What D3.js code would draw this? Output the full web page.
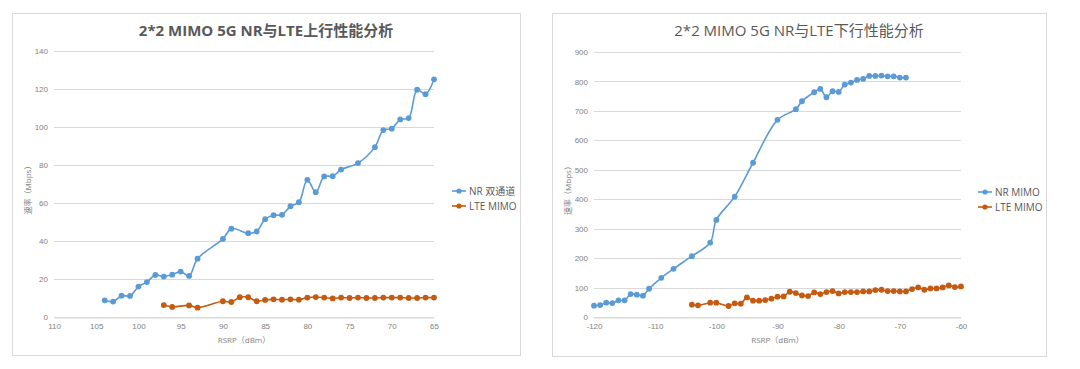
<!DOCTYPE html>
<html>
<head>
<meta charset="utf-8">
<script src="https://cdn.jsdelivr.net/npm/d3@7"></script>
<style>
  body { margin: 0; background: #fff; }
  svg { display: block; font-family: "Open Sans", "Noto Sans CJK SC", sans-serif; }
</style>
</head>
<body>
<svg id="chart" width="1080" height="369"></svg>
<script>
// ---- uplink chart (left) ----
const upNrX = [-104, -103, -102, -101, -100, -99, -98, -97, -96, -95, -94, -93, -90, -89, -87, -86, -85, -84, -83, -82, -81, -80, -79, -78, -77, -76, -74, -72, -71, -70, -69, -68, -67, -66, -65];
const upNrY = [8.8, 8.1, 11.2, 11.1, 16.0, 18.4, 22.1, 21.3, 22.3, 23.9, 21.6, 30.7, 41.1, 46.5, 44.1, 45.0, 51.5, 53.6, 53.8, 58.3, 60.4, 72.2, 65.7, 74.0, 74.1, 77.6, 81.0, 89.4, 98.4, 99.1, 104.0, 104.7, 119.6, 117.3, 125.1];
const upLteX = [-97, -96, -94, -93, -90, -89, -88, -87, -86, -85, -84, -83, -82, -81, -80, -79, -78, -77, -76, -75, -74, -73, -72, -71, -70, -69, -68, -67, -66, -65];
const upLteY = [6.3, 5.3, 6.1, 4.9, 8.3, 7.9, 10.4, 10.4, 8.3, 9.0, 9.3, 9.1, 9.3, 9.1, 10.2, 10.5, 10.2, 9.8, 10.2, 10.0, 10.2, 10.0, 10.0, 10.2, 10.2, 10.2, 10.0, 10.0, 10.2, 10.2];
const upXTicks = [-110, -105, -100, -95, -90, -85, -80, -75, -70, -65];
const upYTicks = [0, 20, 40, 60, 80, 100, 120, 140];

// ---- downlink chart (right) ----
const dnNrX = [-120, -119, -118, -117, -116, -115, -114, -113, -112, -111, -109, -107, -104, -101, -100, -97, -94, -90, -87, -86, -84, -83, -82, -81, -80, -79, -78, -77, -76, -75, -74, -73, -72, -71, -70, -69];
const dnNrY = [38.4, 40.6, 48.6, 47.4, 56.5, 56.5, 77.9, 75.7, 72.3, 96.0, 133.2, 163.7, 206.6, 252.9, 329.7, 408.8, 523.9, 669.6, 705.7, 732.8, 763.3, 774.6, 746.4, 766.7, 764.5, 789.3, 796.1, 805.1, 808.5, 818.7, 818.7, 819.8, 817.5, 817.5, 813.0, 813.0];
const dnLteX = [-104, -103, -101, -100, -98, -97, -96, -95, -94, -93, -92, -91, -90, -89, -88, -87, -86, -85, -84, -83, -82, -81, -80, -79, -78, -77, -76, -75, -74, -73, -72, -71, -70, -69, -68, -67, -66, -65, -64, -63, -62, -61, -60];
const dnLteY = [41.8, 39.5, 48.6, 48.6, 37.3, 46.3, 45.2, 66.6, 55.3, 55.3, 57.6, 62.1, 68.9, 70.0, 85.8, 81.3, 73.4, 71.1, 83.6, 77.9, 84.7, 88.1, 80.2, 84.7, 84.7, 84.7, 86.9, 86.9, 91.5, 92.6, 88.1, 88.1, 86.9, 86.9, 94.9, 100.5, 92.6, 97.1, 97.1, 100.5, 107.3, 101.6, 103.9];
const dnXTicks = [-120, -110, -100, -90, -80, -70, -60];
const dnYTicks = [0, 100, 200, 300, 400, 500, 600, 700, 800, 900];

const BLUE = "#5b9bd5";
const ORANGE = "#c55a11";

const svg = d3.select("#chart");

function drawChart(cfg) {
    const g = svg.append("g");

    // panel frame
    g.append("rect")
        .attr("x", cfg.box[0] + 0.5).attr("y", cfg.box[1] + 0.5)
        .attr("width", cfg.box[2]).attr("height", cfg.box[3])
        .attr("fill", "#fff").attr("stroke", "#d9d9d9");

    g.append("text")
        .attr("x", cfg.titleX).attr("y", 36)
        .attr("text-anchor", "middle")
        .attr("font-size", 15)
        .attr("font-weight", cfg.titleBold ? "bold" : "normal")
        .attr("fill", "#595959")
        .text(cfg.title);

    const x = d3.scaleLinear().domain(cfg.xDomain).range([cfg.plot[0], cfg.plot[1]]);
    const y = d3.scaleLinear().domain(cfg.yDomain).range([cfg.plot[3], cfg.plot[2]]);

    // gridlines
    g.append("g")
        .selectAll("line")
        .data(cfg.yTicks)
        .join("line")
        .attr("x1", cfg.plot[0]).attr("x2", cfg.plot[1])
        .attr("y1", d => Math.round(y(d)) + 0.5).attr("y2", d => Math.round(y(d)) + 0.5)
        .attr("stroke", "#d9d9d9").attr("stroke-width", 1);

    // y axis labels
    const yAxis = g.append("g")
        .attr("transform", `translate(${cfg.plot[0]},0)`)
        .call(d3.axisLeft(y).tickValues(cfg.yTicks).tickSize(0).tickPadding(6));
    yAxis.select(".domain").remove();
    yAxis.selectAll("text").attr("fill", "#7f7f7f").attr("font-size", 8);

    // x axis
    const xAxis = g.append("g")
        .attr("transform", `translate(0,${Math.round(cfg.plot[3]) + 0.5})`)
        .call(d3.axisBottom(x).tickValues(cfg.xTicks).tickSize(0).tickPadding(6).tickFormat(cfg.xFormat));
    xAxis.select(".domain").attr("stroke", "#d9d9d9");
    xAxis.selectAll("text").attr("fill", "#7f7f7f").attr("font-size", 8);

    // axis titles
    g.append("text")
        .attr("x", (cfg.plot[0] + cfg.plot[1]) / 2).attr("y", 343)
        .attr("text-anchor", "middle")
        .attr("font-size", 8).attr("fill", "#7f7f7f")
        .text("RSRP（dBm）");
    g.append("text")
        .attr("transform", `translate(${cfg.yTitleX},${(cfg.plot[2] + cfg.plot[3]) / 2 + 4}) rotate(-90)`)
        .attr("text-anchor", "middle")
        .attr("font-size", 8).attr("fill", "#7f7f7f")
        .text("速率（Mbps）");

    const line = d3.line()
        .x(d => x(d[0]))
        .y(d => y(d[1]))
        .curve(d3.curveCatmullRom.alpha(0.5));

    cfg.series.forEach((s, i) => {
        const pts = s.xs.map((v, k) => [v, s.ys[k]]);
        g.append("path")
            .datum(pts)
            .attr("fill", "none")
            .attr("stroke", s.color)
            .attr("stroke-width", 1.6)
            .attr("d", line);
        g.append("g")
            .selectAll("circle")
            .data(pts)
            .join("circle")
            .attr("cx", d => x(d[0]))
            .attr("cy", d => y(d[1]))
            .attr("r", 2.9)
            .attr("fill", s.color);

        // legend entry
        const ly = cfg.legendY + i * 15;
        g.append("line")
            .attr("x1", cfg.legendX).attr("x2", cfg.legendX + 14)
            .attr("y1", ly).attr("y2", ly)
            .attr("stroke", s.color).attr("stroke-width", 1.6);
        g.append("circle")
            .attr("cx", cfg.legendX + 7).attr("cy", ly).attr("r", 2.6)
            .attr("fill", s.color);
        g.append("text")
            .attr("x", cfg.legendX + 17).attr("y", ly + 3.5)
            .attr("font-size", 10).attr("fill", "#595959")
            .text(s.name);
    });
}

drawChart({
    box: [12, 13, 508, 342],
    title: "2*2 MIMO 5G NR与LTE上行性能分析",
    titleBold: true,
    titleX: 266,
    plot: [54, 434, 51, 317],
    xDomain: [-110, -65],
    yDomain: [0, 140],
    xTicks: upXTicks,
    yTicks: upYTicks,
    xFormat: d => String(Math.abs(d)),
    yTitleX: 31,
    legendX: 452,
    legendY: 191,
    series: [
        {name: "NR 双通道", color: BLUE, xs: upNrX, ys: upNrY},
        {name: "LTE MIMO", color: ORANGE, xs: upLteX, ys: upLteY}
    ]
});

drawChart({
    box: [552, 13, 494, 343],
    title: "2*2 MIMO 5G NR与LTE下行性能分析",
    titleBold: false,
    titleX: 799,
    plot: [594, 961, 52, 317],
    xDomain: [-120, -60],
    yDomain: [0, 900],
    xTicks: dnXTicks,
    yTicks: dnYTicks,
    xFormat: d => String(d),
    yTitleX: 571,
    legendX: 978,
    legendY: 192,
    series: [
        {name: "NR MIMO", color: BLUE, xs: dnNrX, ys: dnNrY},
        {name: "LTE MIMO", color: ORANGE, xs: dnLteX, ys: dnLteY}
    ]
});
</script>
</body>
</html>
